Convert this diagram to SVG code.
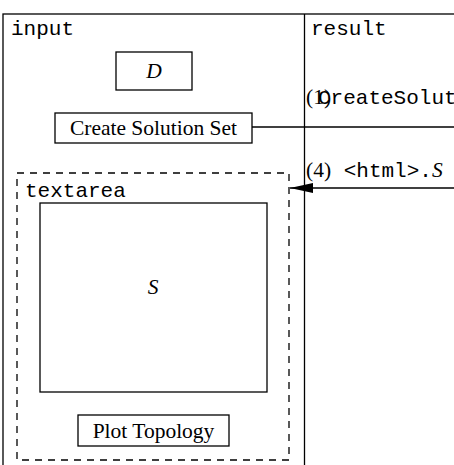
<svg xmlns="http://www.w3.org/2000/svg" width="454" height="465" viewBox="0 0 454 465">
<defs>
<style>
.box{fill:#fff;stroke:#000;stroke-width:1.3}
.dash{fill:none;stroke:#000;stroke-width:1.3;stroke-dasharray:7,6}
.line{fill:none;stroke:#000;stroke-width:1.3}
.mono{font-family:"Liberation Mono",monospace;font-size:21px;fill:#000}
.serif{font-family:"Liberation Serif",serif;font-size:21.5px;fill:#000}
.it{font-family:"Liberation Serif",serif;font-size:21.5px;font-style:italic;fill:#000}
</style>
<marker id="arr" markerWidth="24" markerHeight="12" refX="23" refY="5" orient="auto" markerUnits="userSpaceOnUse">
<path d="M0,0 L23,5 L0,10 Z" fill="#000"/>
</marker>
</defs>
<rect width="454" height="465" fill="#fff"/>
<g id="frame">
<rect class="line" x="3" y="14" width="470" height="470"/>
<line class="line" x1="304.5" y1="14" x2="304.5" y2="465"/>
<text class="mono" x="11" y="35">input</text>
<text class="mono" x="311" y="35">result</text>
</g>
<g id="nodeD">
<rect class="box" x="116" y="52" width="76" height="38"/>
<text class="it" x="154" y="78" text-anchor="middle">D</text>
</g>
<g id="nodeCreate">
<rect class="box" x="55" y="113" width="197" height="30"/>
<text class="serif" x="153.5" y="135" text-anchor="middle">Create Solution Set</text>
</g>
<g id="textarea">
<rect class="dash" x="17" y="173" width="272" height="287"/>
<text class="mono" x="25" y="197">textarea</text>
</g>
<g id="nodeS">
<rect class="box" x="40" y="203" width="227" height="189"/>
<text class="it" x="153" y="294" text-anchor="middle">S</text>
</g>
<g id="nodePlot">
<rect class="box" x="78" y="415" width="151" height="31"/>
<text class="serif" x="153.5" y="438" text-anchor="middle">Plot Topology</text>
</g>
<g id="connectors">
<line class="line" x1="252" y1="127" x2="460" y2="127"/>
<line class="line" x1="460" y1="188" x2="290" y2="188" marker-end="url(#arr)"/>
</g>
<g id="labels">
<text class="serif" x="306" y="104">(1)</text>
<text class="mono" x="318" y="104">CreateSolution</text>
<text x="306" y="177"><tspan class="serif">(4)</tspan><tspan class="mono"> &lt;html&gt;.</tspan><tspan class="it">S</tspan></text>
</g>
</svg>
